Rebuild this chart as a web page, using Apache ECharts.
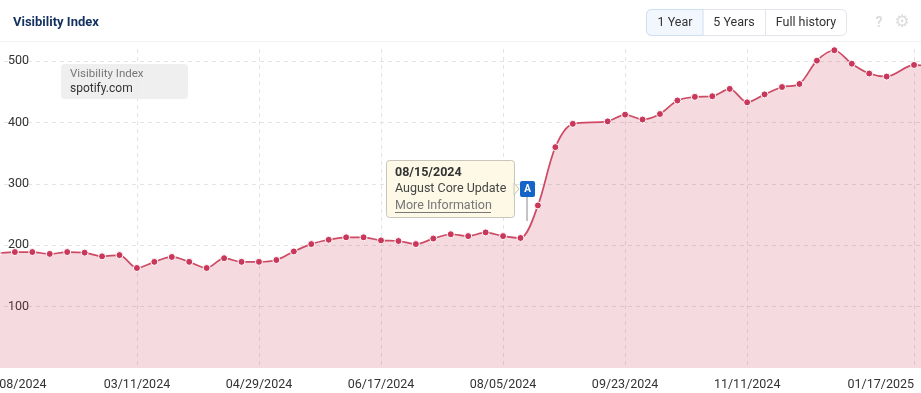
<!DOCTYPE html>
<html>
<head>
<meta charset="utf-8">
<style>
  html, body { margin: 0; padding: 0; background: #fff; }
  #chart { width: 921px; height: 393px; }
</style>
</head>
<body>
<div id="chart"></div>
<script src="https://cdn.jsdelivr.net/npm/echarts@6/dist/echarts.min.js"></script>
<script>
const dates = [
  '2024-01-08', '2024-01-15', '2024-01-22', '2024-01-29', '2024-02-05', '2024-02-12', '2024-02-19',
  '2024-02-26', '2024-03-04', '2024-03-11', '2024-03-18', '2024-03-25', '2024-04-01', '2024-04-08',
  '2024-04-15', '2024-04-22', '2024-04-29', '2024-05-06', '2024-05-13', '2024-05-20', '2024-05-27',
  '2024-06-03', '2024-06-10', '2024-06-17', '2024-06-24', '2024-07-01', '2024-07-08', '2024-07-15',
  '2024-07-22', '2024-07-29', '2024-08-05', '2024-08-12', '2024-08-19', '2024-08-26', '2024-09-02',
  '2024-09-16', '2024-09-23', '2024-09-30', '2024-10-07', '2024-10-14', '2024-10-21', '2024-10-28',
  '2024-11-04', '2024-11-11', '2024-11-18', '2024-11-25', '2024-12-02', '2024-12-09', '2024-12-16',
  '2024-12-23', '2024-12-30', '2025-01-06', '2025-01-17', '2025-01-22'
]
const visibility = [
  184, 187, 189, 189, 186, 189, 188,
  182, 184, 163, 173, 181, 173, 163,
  179, 173, 173, 176, 190, 202, 209,
  213, 213, 208, 207, 202, 211, 218,
  215, 221, 215, 212, 265, 360, 398,
  402, 413, 405, 414, 436, 442, 443,
  455, 433, 446, 458, 463, 501, 518,
  496, 480, 475, 494, 492
]
const tickDates = ['2024-01-08', '2024-03-11', '2024-04-29', '2024-06-17', '2024-08-05', '2024-09-23', '2024-11-11', '2025-01-17']
const axisEnd = '2025-01-21'
const ranges = ['1 Year', '5 Years', 'Full history']

const font = 'Roboto, sans-serif'

function toTime(s) {
  const p = s.split('-')
  return Date.UTC(+p[0], +p[1] - 1, +p[2])
}

function pad(n) {
  return (n < 10 ? '0' : '') + n
}

function text(x, y, str, size, color, extra) {
  return {
    type: 'text',
    x: x,
    y: y,
    z: 20,
    silent: true,
    style: Object.assign({
      text: str,
      fontFamily: font,
      fontSize: size,
      fill: color,
      verticalAlign: 'middle'
    }, extra || {})
  }
}

function rect(x, y, w, h, r, fill, stroke) {
  return {
    type: 'rect',
    z: 10,
    silent: true,
    shape: { x: x, y: y, width: w, height: h, r: r },
    style: { fill: fill, stroke: stroke || null, lineWidth: 1 }
  }
}

const chart = echarts.init(document.getElementById('chart'), null, { renderer: 'canvas' })

chart.setOption({
  animation: false,
  backgroundColor: '#fff',
  // left is negative: the axis starts at 01/08, just off the canvas
  grid: { left: -20, right: -3, top: 49, bottom: 25, outerBoundsMode: 'none' },
  xAxis: {
    type: 'value',
    min: toTime(dates[0]),
    max: toTime(axisEnd),
    axisLine: { show: false },
    axisTick: { show: false, customValues: tickDates.map(toTime) },
    splitLine: {
      show: true,
      lineStyle: { color: '#e4e4e4', type: [4, 4], width: 1 }
    },
    axisLabel: {
      customValues: tickDates.map(toTime),
      alignMinLabel: 'left',
      alignMaxLabel: 'right',
      hideOverlap: false,
      margin: 10,
      color: '#333',
      fontFamily: font,
      fontSize: 12.5,
      formatter: function (v) {
        const d = new Date(v)
        return pad(d.getUTCMonth() + 1) + '/' + pad(d.getUTCDate()) + '/' + d.getUTCFullYear()
      }
    }
  },
  yAxis: {
    type: 'value',
    min: 0,
    max: 520,
    interval: 100,
    axisLine: { show: false },
    axisTick: { show: false },
    splitLine: {
      show: true,
      showMinLine: false,
      showMaxLine: false,
      lineStyle: { color: '#e4e4e4', type: [4, 4], width: 1 }
    },
    axisLabel: {
      inside: true,
      margin: 28,
      align: 'left',
      showMinLabel: false,
      showMaxLabel: false,
      color: '#333',
      fontFamily: font,
      fontSize: 12.5
    }
  },
  series: [{
    type: 'line',
    data: dates.map(function (d, i) { return [toTime(d), visibility[i]] }),
    smooth: 0.3,
    symbol: 'circle',
    symbolSize: 7,
    showSymbol: true,
    showAllSymbol: true,
    clip: true,
    lineStyle: { color: '#cd4a64', width: 1.7 },
    itemStyle: { color: '#c9385a', borderColor: '#fff', borderWidth: 1 },
    areaStyle: { color: 'rgba(204,60,90,0.27)' }
  }],
  graphic: {
    elements: [
      // header
      { type: 'line', z: 5, silent: true, shape: { x1: 0, y1: 41.5, x2: 921, y2: 41.5 }, style: { stroke: '#f2f2f2', lineWidth: 1 } },
      text(13, 23, 'Visibility Index', 13, '#13315f', { fontWeight: 'bold' }),

      // range buttons
      rect(646.5, 9.5, 200, 26, 5, '#fff', '#e2e6ea'),
      rect(646.5, 9.5, 56.5, 26, [5, 0, 0, 5], '#f2f7fd', '#cddff3'),
      { type: 'line', z: 11, silent: true, shape: { x1: 765.5, y1: 10, x2: 765.5, y2: 35 }, style: { stroke: '#e2e6ea', lineWidth: 1 } },
      text(675, 22.5, ranges[0], 12.5, '#333', { align: 'center' }),
      text(734, 22.5, ranges[1], 12.5, '#333', { align: 'center' }),
      text(806, 22.5, ranges[2], 12.5, '#333', { align: 'center' }),
      text(879, 23, '?', 14, '#dcdcdc', { align: 'center', fontWeight: 'bold' }),
      text(902, 23, '\u2699', 17, '#dcdcdc', { align: 'center', fontFamily: 'DejaVu Sans' }),

      // legend box
      rect(61, 64, 127, 35, 4, 'rgba(236,236,236,0.85)'),
      text(70, 74, 'Visibility Index', 11.5, '#777'),
      text(70, 88.5, 'spotify.com', 12, '#333'),

      // event note
      { type: 'line', z: 9, silent: true, shape: { x1: 527, y1: 195, x2: 527, y2: 221 }, style: { stroke: '#c4c4c4', lineWidth: 2 } },
      rect(386.5, 160.5, 128, 57, 3, '#fdf9e6', '#c8c6ba'),
      { type: 'polygon', z: 11, silent: true, shape: { points: [[514, 183], [519, 189], [514, 195]] }, style: { fill: '#fdf9e6', stroke: '#c8c6ba' } },
      rect(520, 181, 15, 16, 2, '#1565c8'),
      text(527.5, 189, 'A', 10, '#fff', { align: 'center', fontWeight: 'bold' }),
      text(395, 173, '08/15/2024', 12.5, '#333', { fontWeight: 'bold' }),
      text(395, 189, 'August Core Update', 12.5, '#444'),
      text(395, 205.5, 'More Information', 12.5, '#777'),
      { type: 'line', z: 20, silent: true, shape: { x1: 395, y1: 212.5, x2: 491, y2: 212.5 }, style: { stroke: '#777', lineWidth: 1 } }
    ]
  }
})
</script>
</body>
</html>
